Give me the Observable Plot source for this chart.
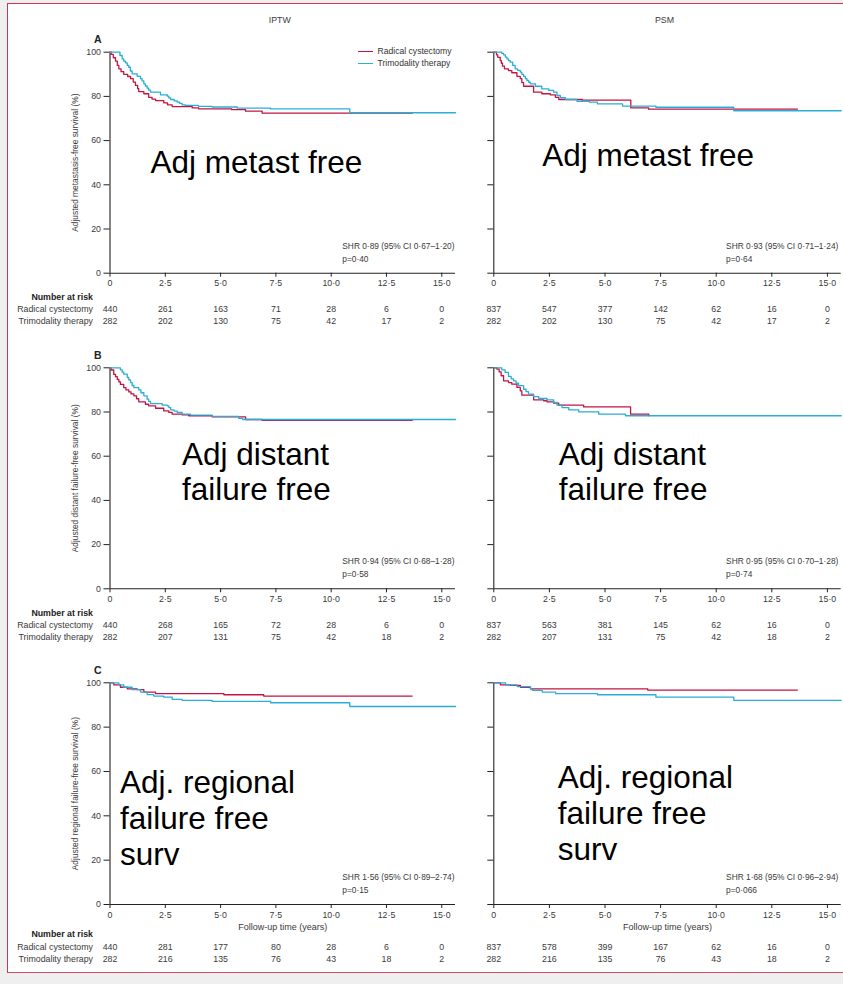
<!DOCTYPE html>
<html>
<head>
<meta charset="utf-8">
<script src="https://cdn.jsdelivr.net/npm/d3@7"></script>
<script src="https://cdn.jsdelivr.net/npm/@observablehq/plot@0.6"></script>
<style>
html,body{margin:0;padding:0;background:#efefef;width:843px;height:984px;overflow:hidden}
#page{position:relative;width:843px;height:984px}
#frame{position:absolute;left:7px;top:3px;width:860px;height:968px;background:#fff;border-top:1.5px solid #c8375b;border-left:1.5px solid #c8375b;border-bottom:1.5px solid #d04a6a}
.panel{position:absolute}
#legend{position:absolute;left:358px;top:46px;font-family:"Liberation Sans",Arial,sans-serif;font-size:8.6px;color:#333}
#legend div{height:11.6px;line-height:11.6px;white-space:nowrap}
#legend span.sw{display:inline-block;width:15px;height:0;vertical-align:middle;margin-right:4.5px}
</style>
</head>
<body>
<div id="page"><div id="frame"></div></div>
<script>
// ---------- data ----------
const arms = ["Radical cystectomy", "Trimodality therapy"];
const armColors = ["#c41443", "#2aadd6"];
const riskTimes = [0, 2.5, 5, 7.5, 10, 12.5, 15];
const yTicks = [0, 20, 40, 60, 80, 100];

// Panel A – metastasis-free survival
const aIptwRC = [[0,100],[0.05,99],[0.15,97.5],[0.25,96],[0.33,94],[0.4,92.5],[0.5,91.2],[0.62,90],[0.8,89],[0.93,88],[1.05,86.5],[1.15,85],[1.25,83.5],[1.3,82.2],[1.53,81.2],[1.75,79.6],[1.9,78.8],[2.06,78.1],[2.43,77.1],[2.6,76.2],[2.81,75.4],[3.72,74.8],[4.01,74.4],[5.5,74.0],[6.13,73.3],[6.88,72.4],[13.66,72.4]];
const aIptwTMT = [[0,100],[0.4,100],[0.45,98.5],[0.55,97],[0.62,96],[0.7,95.2],[0.78,94],[0.85,93.2],[0.92,91.5],[1.0,90.2],[1.23,89.1],[1.38,88],[1.45,87],[1.53,85.7],[1.6,84.7],[1.68,83.7],[1.75,82.8],[1.83,81.9],[2.28,80.7],[2.59,80.1],[2.66,79.3],[2.74,78.6],[2.9,78],[3.04,77.4],[3.15,76.8],[3.26,76.2],[3.41,75.9],[4.0,75.5],[4.62,75.2],[5.75,74.7],[7.26,74.4],[10.84,72.6],[15.62,72.6]];
const aPsmRC = [[0,100],[0.06,100],[0.12,98.8],[0.18,97.7],[0.29,96.2],[0.34,95],[0.39,93.7],[0.48,92.5],[0.66,91.7],[0.81,90.7],[1.04,89.1],[1.19,88],[1.26,86.2],[1.34,84.6],[1.79,81.9],[2.16,81.2],[2.54,80.7],[2.77,79.6],[2.92,78.6],[3.98,78.3],[6.16,74.8],[6.96,74.2],[13.65,74.2]];
const aPsmTMT = [[0,100],[0.29,100],[0.36,99.5],[0.44,98.8],[0.52,97.8],[0.59,97],[0.66,96.2],[0.74,95.5],[0.85,94],[0.96,92.5],[1.07,91.8],[1.19,91],[1.26,90],[1.34,89.1],[1.42,88],[1.49,87.2],[1.57,86.4],[1.64,85.7],[1.87,84.6],[2.16,83.4],[2.47,82.7],[2.69,81.9],[2.84,80.4],[2.99,79.4],[3.22,78.6],[3.74,77.8],[4.3,77.4],[4.66,76.6],[5.79,75.6],[7.29,75.1],[10.79,73.5],[15.62,73.5]];

// Panel B – distant failure-free survival
const bIptwRC = [[0,100],[0.05,99],[0.17,97],[0.25,96],[0.33,94.8],[0.4,93.6],[0.47,92.5],[0.62,91],[0.72,90],[0.85,89.1],[0.95,88.2],[1.08,87.3],[1.2,86],[1.3,84.6],[1.6,83.5],[1.75,82.8],[2.06,81.7],[2.43,80.5],[2.66,79.8],[2.81,79],[3.26,78.7],[3.56,78.3],[4.62,77.8],[6.13,76.6],[6.88,76.2],[13.66,76.2]];
const bIptwTMT = [[0,100],[0.33,100],[0.47,99.1],[0.55,98],[0.62,97.1],[0.78,95.6],[0.85,94.5],[0.93,93.3],[1.0,92],[1.08,91],[1.3,90],[1.4,88.7],[1.53,87.3],[1.68,85.8],[1.75,84.8],[1.83,83.8],[2.36,83.1],[2.59,82.8],[2.66,82],[2.74,81],[2.9,80.4],[3.04,79.8],[3.26,79],[3.64,78.6],[4.62,78],[5.82,77.1],[6.0,76.6],[15.62,76.6]];
const bPsmRC = [[0,100],[0.03,100],[0.14,99.4],[0.24,98.2],[0.33,96.4],[0.44,94.1],[0.66,93.3],[0.81,92.6],[1.04,91.1],[1.19,89.6],[1.26,87.6],[1.79,85.5],[2.24,85.1],[2.39,84.6],[2.69,84],[2.92,83.1],[4.04,82.3],[6.15,79],[6.97,78.3]];
const bPsmTMT = [[0,100],[0.21,100],[0.36,99.1],[0.51,97.9],[0.66,96.1],[0.78,95],[0.89,94.1],[1.0,93],[1.11,91.9],[1.34,90.3],[1.45,89.2],[1.56,88.1],[1.79,87],[2.02,86.1],[2.39,85.5],[2.69,84.3],[2.84,83.1],[3.07,82],[3.37,81],[3.82,80.1],[4.72,79],[5.92,78.3],[15.62,78.3]];

// Panel C – regional failure-free survival
const cIptwRC = [[0,100],[0.17,99.1],[0.47,98],[0.78,97.3],[1.23,96.9],[1.53,95.8],[2.06,95.1],[5.15,94.6],[6.95,94],[13.66,94]];
const cIptwTMT = [[0,100],[0.25,100],[0.4,99.1],[0.62,98],[1.0,96.9],[1.38,95.8],[1.68,94.7],[1.98,94],[2.43,93.5],[2.81,92.5],[3.26,92.1],[4.62,91.6],[7.26,91],[10.84,89.3],[15.62,89.3]];
const cPsmRC = [[0,100],[0.3,99.1],[0.75,98.8],[1.2,98],[1.65,97.3],[6.92,96.7],[13.65,96.7]];
const cPsmTMT = [[0,100],[0.3,100],[0.53,99.1],[1.05,98.3],[1.65,97.3],[1.73,96.6],[2.18,95.8],[2.78,95.1],[4.66,94.6],[7.29,93.5],[10.79,92.1],[15.62,92.1]];

// Numbers at risk
const aIptwRiskRC = [440, 261, 163, 71, 28, 6, 0];
const aIptwRiskTMT = [282, 202, 130, 75, 42, 17, 2];
const aPsmRiskRC = [837, 547, 377, 142, 62, 16, 0];
const aPsmRiskTMT = [282, 202, 130, 75, 42, 17, 2];
const bIptwRiskRC = [440, 268, 165, 72, 28, 6, 0];
const bIptwRiskTMT = [282, 207, 131, 75, 42, 18, 2];
const bPsmRiskRC = [837, 563, 381, 145, 62, 16, 0];
const bPsmRiskTMT = [282, 207, 131, 75, 42, 18, 2];
const cIptwRiskRC = [440, 281, 177, 80, 28, 6, 0];
const cIptwRiskTMT = [282, 216, 135, 76, 43, 18, 2];
const cPsmRiskRC = [837, 578, 399, 167, 62, 16, 0];
const cPsmRiskTMT = [282, 216, 135, 76, 43, 18, 2];

// Texts
const methods = ["IPTW", "PSM"];
const rowLetters = ["A", "B", "C"];
const yLabels = ["Adjusted metastasis-free survival (%)", "Adjusted distant failure-free survival (%)", "Adjusted regional failure-free survival (%)"];
const notes = ["Adj metast free", "Adj distant\nfailure free", "Adj. regional\nfailure free\nsurv"];
const shrTexts = [["SHR 0·89 (95% CI 0·67–1·20)", "SHR 0·93 (95% CI 0·71–1·24)"], ["SHR 0·94 (95% CI 0·68–1·28)", "SHR 0·95 (95% CI 0·70–1·28)"], ["SHR 1·56 (95% CI 0·89–2·74)", "SHR 1·68 (95% CI 0·96–2·94)"]];
const pTexts = [["p=0·40", "p=0·64"], ["p=0·58", "p=0·74"], ["p=0·15", "p=0·066"]];
const xAxisLabel = "Follow-up time (years)";
const riskHeading = "Number at risk";

// ---------- layout ----------
const curvesByPanel = [[[aIptwRC, aIptwTMT], [aPsmRC, aPsmTMT]], [[bIptwRC, bIptwTMT], [bPsmRC, bPsmTMT]], [[cIptwRC, cIptwTMT], [cPsmRC, cPsmTMT]]];
const riskByPanel = [[[aIptwRiskRC, aIptwRiskTMT], [aPsmRiskRC, aPsmRiskTMT]], [[bIptwRiskRC, bIptwRiskTMT], [bPsmRiskRC, bPsmRiskTMT]], [[cIptwRiskRC, cIptwRiskTMT], [cPsmRiskRC, cPsmRiskTMT]]];

const rowGeo = [
  {top: 0, height: 335, mt: 51.7, mb: 62.3, riskDy: [26.3, 38.3, 51]},
  {top: 335, height: 315, mt: 32.3, mb: 61.7, riskDy: [26.7, 39.4, 51]},
  {top: 650, height: 334, mt: 32.3, mb: 80, riskDy: [32.7, 45, 57.7], xLabelDy: 25}
];
const colGeo = [
  {left: 0, width: 462, ml: 109.5, mr: 7, labels: true},
  {left: 462, width: 381, ml: 31.3, mr: 2.3, labels: false}
];
const noteGeo = [
  [{dx: 40.5, dy: 95.4, lh: 1.12}, {dx: 48.4, dy: 89.2, lh: 1.12}],
  [{dx: 72, dy: 72, lh: 1.11}, {dx: 65, dy: 72, lh: 1.11}],
  [{dx: 10, dy: 84.6, lh: 1.14}, {dx: 64, dy: 80.3, lh: 1.13}]
];

const FONT = "'Liberation Sans', Arial, sans-serif";
const TXT = "#3a3a3a";
const fmtX = d => d === 0 ? "0" : d.toFixed(1).replace(".", "·");

const page = document.getElementById("page");

for (let r = 0; r < 3; r++) {
  for (let c = 0; c < 2; c++) {
    const g = rowGeo[r], k = colGeo[c], ng = noteGeo[r][c];
    const [rc, tmt] = curvesByPanel[r][c];
    const curves = [
      ...rc.map(([t, s]) => ({t, s, arm: arms[0]})),
      ...tmt.map(([t, s]) => ({t, s, arm: arms[1]}))
    ];
    const [nRC, nTMT] = riskByPanel[r][c];
    const riskRC = riskTimes.map((t, i) => ({t, n: nRC[i]}));
    const riskTMT = riskTimes.map((t, i) => ({t, n: nTMT[i]}));

    const marks = [
      Plot.axisX({ticks: riskTimes, tickFormat: fmtX, tickSize: 4, tickPadding: 3, label: null, stroke: "#222", fill: TXT}),
      Plot.axisY({ticks: yTicks, tickSize: 6, tickPadding: 3, label: null, stroke: "#222", fill: TXT,
        tickFormat: k.labels ? (d => String(d)) : (() => "")}),
      Plot.ruleY([0], {stroke: "#222", strokeWidth: 1.1}),
      Plot.ruleX([0], {stroke: "#222", strokeWidth: 1.1}),
      Plot.line(curves, {x: "t", y: "s", stroke: "arm", z: "arm", curve: "step-after", strokeWidth: 1.3}),
      // big annotation
      Plot.text([notes[r]], {text: d => d, frameAnchor: "top-left", dx: ng.dx, dy: ng.dy, textAnchor: "start", lineAnchor: "top",
        fontSize: 31.5, lineHeight: ng.lh, fill: "#000", fontFamily: FONT}),
      // SHR and p
      Plot.text([shrTexts[r][c]], {text: d => d, frameAnchor: "bottom-left", dx: 232.3, dy: -24.4, textAnchor: "start", fill: TXT, fontSize: 8.35}),
      Plot.text([pTexts[r][c]], {text: d => d, frameAnchor: "bottom-left", dx: 232.3, dy: -11.7, textAnchor: "start", fill: TXT, fontSize: 8.35}),
      // numbers at risk
      Plot.text(riskRC, {x: "t", text: d => String(d.n), frameAnchor: "bottom", dy: g.riskDy[1], fill: TXT}),
      Plot.text(riskTMT, {x: "t", text: d => String(d.n), frameAnchor: "bottom", dy: g.riskDy[2], fill: TXT})
    ];
    if (k.labels) {
      marks.push(
        Plot.text([yLabels[r]], {text: d => d, frameAnchor: "left", dx: -34.5, rotate: -90, textAnchor: "middle", fontSize: 8.4, fill: TXT}),
        Plot.text([rowLetters[r]], {text: d => d, frameAnchor: "top-left", dx: -16, dy: -16.7, textAnchor: "start", fontWeight: "bold", fontSize: 10.5, fill: "#222"}),
        Plot.text([riskHeading], {text: d => d, frameAnchor: "bottom-left", dx: -17, dy: g.riskDy[0], textAnchor: "end", fontWeight: "bold", fill: "#222"}),
        Plot.text([arms[0]], {text: d => d, frameAnchor: "bottom-left", dx: -17, dy: g.riskDy[1], textAnchor: "end", fill: TXT}),
        Plot.text([arms[1]], {text: d => d, frameAnchor: "bottom-left", dx: -17, dy: g.riskDy[2], textAnchor: "end", fill: TXT})
      );
    }
    if (r === 0) {
      marks.push(Plot.text([methods[c]], {text: d => d, frameAnchor: "top", dx: -3, dy: -35.7, fill: TXT, fontSize: 8.8}));
    }
    if (g.xLabelDy) {
      marks.push(Plot.text([xAxisLabel], {text: d => d, frameAnchor: "bottom", dy: g.xLabelDy, fill: TXT, fontSize: 9}));
    }

    const chart = Plot.plot({
      width: k.width,
      height: g.height,
      marginLeft: k.ml,
      marginRight: k.mr,
      marginTop: g.mt,
      marginBottom: g.mb,
      x: {domain: [0, 15.62], label: null},
      y: {domain: [0, 100], label: null},
      color: {domain: arms, range: armColors},
      style: {background: "transparent", fontFamily: FONT, fontSize: "8.8px", color: TXT, overflow: "visible"},
      marks
    });
    chart.classList.add("panel");
    chart.style.left = k.left + "px";
    chart.style.top = g.top + "px";
    chart.style.position = "absolute";
    page.appendChild(chart);
  }
}

// legend (panel A, IPTW)
const legend = document.createElement("div");
legend.id = "legend";
arms.forEach((a, i) => {
  const row = document.createElement("div");
  const sw = document.createElement("span");
  sw.className = "sw";
  sw.style.borderTop = "1.3px solid " + armColors[i];
  row.appendChild(sw);
  row.appendChild(document.createTextNode(a));
  legend.appendChild(row);
});
page.appendChild(legend);
</script>
</body>
</html>
